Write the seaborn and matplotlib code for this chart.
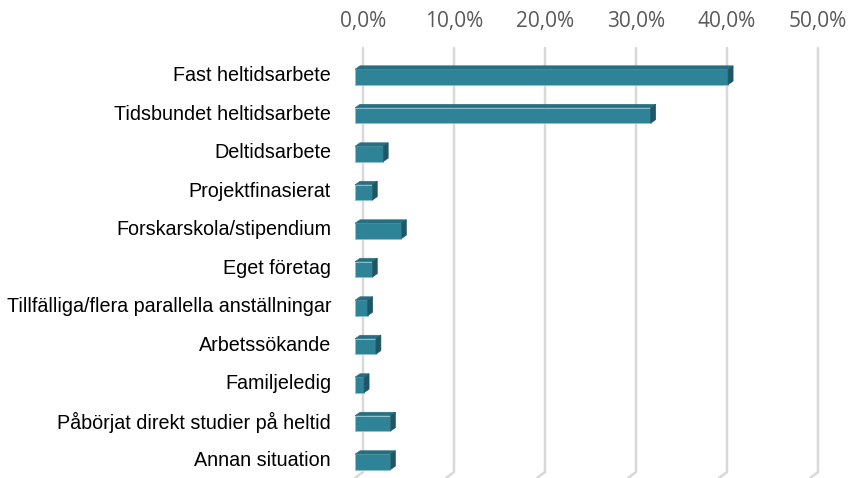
import numpy as np
import pandas as pd
import matplotlib
matplotlib.use('Agg')
import matplotlib.pyplot as plt
import seaborn as sns
from matplotlib.patches import Polygon
from matplotlib.transforms import IdentityTransform

categories = ['Fast heltidsarbete', 'Tidsbundet heltidsarbete', 'Deltidsarbete',
              'Projektfinasierat', 'Forskarskola/stipendium', 'Eget företag',
              'Tillfälliga/flera parallella anställningar', 'Arbetssökande',
              'Familjeledig', 'Påbörjat direkt studier på heltid', 'Annan situation']
shares = [0.410, 0.325, 0.031, 0.019, 0.051, 0.019, 0.014, 0.023, 0.010, 0.039, 0.039]
ticks = [0.0, 0.1, 0.2, 0.3, 0.4, 0.5]
tick_labels = ['0,0%', '10,0%', '20,0%', '30,0%', '40,0%', '50,0%']

FRONT = '#2E8396'
TOP = '#276F80'
SIDE = '#1D5666'
GRID = '#D9D9D9'

df = pd.DataFrame({'kategori': categories, 'andel': shares})

sns.set_style('white')
fig = plt.figure(figsize=(8.49, 4.78), dpi=100)
W, H = 849, 478
ax = fig.add_axes([363 / W, 6 / H, (818 - 363) / W, (472 - 48) / H])

sns.barplot(data=df, x='andel', y='kategori', orient='h', color=FRONT,
            width=0.4, saturation=1, ax=ax, zorder=3)

ax.set_xlim(0, 0.5)
ax.set_ylim(10.34, -0.675)
ax.set_xticks(ticks)
ax.set_xticklabels(tick_labels, family='Open Sans', fontsize=15, color='#595959')
ax.xaxis.tick_top()
ax.tick_params(axis='x', length=0, pad=11.5)
ax.tick_params(axis='y', length=0, pad=23)
for lab in ax.get_yticklabels():
    lab.set_family('Liberation Sans')
    lab.set_fontsize(14.2)
    lab.set_color('#000000')
ax.set_xlabel('')
ax.set_ylabel('')
for s in ax.spines.values():
    s.set_visible(False)
ax.grid(False)

# back-wall gridlines plus the floor slant
fig.canvas.draw()
to_px = ax.transData
for t in ticks:
    xt, ytop = to_px.transform((t, -0.675))
    _, ybot = to_px.transform((t, 10.34))
    ax.add_line(plt.Line2D([xt, xt, xt - 8], [ytop, ybot, ybot - 6], transform=IdentityTransform(),
                           color=GRID, lw=1.8, zorder=1, clip_on=False))

# 3D look: shift the front face and add a top and side face
dx, dz, dd = -8, 3.5, 5
for p in ax.patches:
    x0, y0 = p.get_x(), p.get_y()
    (ax0, ay0), (ax1, ay1) = to_px.transform([(x0, y0), (x0 + p.get_width(), y0 + p.get_height())])
    left, right = ax0 + dx, ax1 + dx
    top, bot = max(ay0, ay1) - 3, min(ay0, ay1) - 3
    p.set_visible(False)
    front = Polygon([(left, bot), (right, bot), (right, top), (left, top)], closed=True,
                    facecolor=FRONT, edgecolor='#8CC3D1', lw=0.6,
                    transform=IdentityTransform(), zorder=4, clip_on=False)
    topf = Polygon([(left, top), (right, top), (right + dd, top + dz), (left + dd, top + dz)], closed=True,
                   facecolor=TOP, edgecolor=TOP, lw=0.4,
                   transform=IdentityTransform(), zorder=4, clip_on=False)
    side = Polygon([(right, bot), (right + dd, bot + dz), (right + dd, top + dz), (right, top)], closed=True,
                   facecolor=SIDE, edgecolor=SIDE, lw=0.4,
                   transform=IdentityTransform(), zorder=4, clip_on=False)
    for poly in (front, topf, side):
        ax.add_artist(poly)

fig.savefig('out.png', dpi=100)
